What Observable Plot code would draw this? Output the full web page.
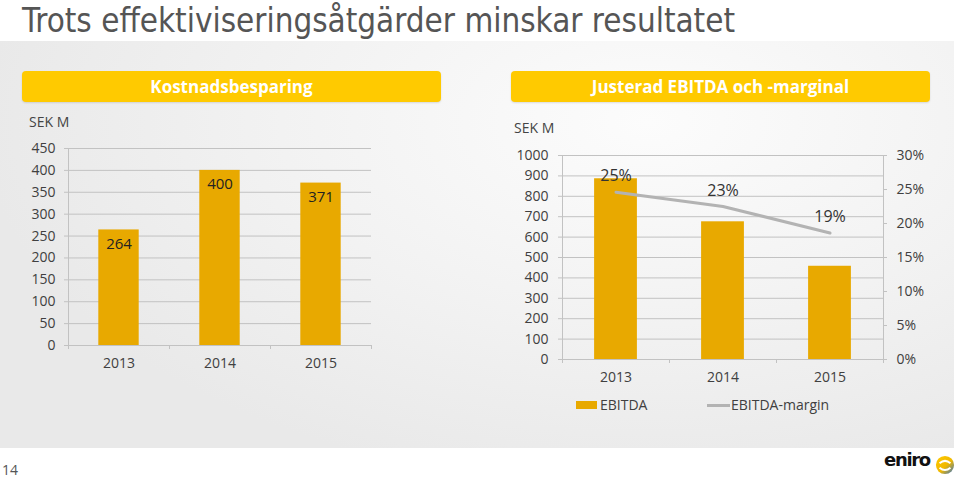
<!DOCTYPE html>
<html><head><meta charset="utf-8">
<script src="https://cdn.jsdelivr.net/npm/d3@7"></script>
<script src="https://cdn.jsdelivr.net/npm/@observablehq/plot@0.6"></script>
<style>
html,body{margin:0;padding:0;width:960px;height:478px;overflow:hidden;background:#fff;font-family:"Open Sans",sans-serif;}
#root{position:relative;width:960px;height:478px;}
#title{position:absolute;left:22px;top:0px;line-height:normal;font-family:"Liberation Sans Narrow","DejaVu Sans Condensed",sans-serif;font-size:34px;color:#555;white-space:nowrap;transform-origin:0 0;}
#panel{position:absolute;left:0;top:41px;width:954px;height:407px;background:radial-gradient(ellipse 70% 90% at 68% 20%,#fcfcfc 0%,#f2f2f2 55%,#e9e9e9 100%);}
.banner{position:absolute;height:31px;background:#FFCA00;border-radius:4px;color:#fff;font-weight:700;font-size:17px;display:flex;align-items:center;justify-content:center;box-shadow:0 1px 2px rgba(0,0,0,0.12);}
.unit{position:absolute;font-size:14px;color:#444;}
.chart{position:absolute;}
.leg{position:absolute;font-size:14px;color:#404040;}
#page{position:absolute;left:2px;top:460px;font-size:14px;color:#555;}
#logo{position:absolute;left:884px;top:449px;font-weight:800;font-size:18px;color:#111;font-family:"DejaVu Sans",sans-serif;letter-spacing:-1.3px;white-space:nowrap;}
#icon{position:absolute;left:935px;top:455px;}
</style></head>
<body><div id="root">
<div id="panel"></div>
<div id="title">Trots effektiviseringsåtgärder minskar resultatet</div>
<div class="banner" style="left:22px;top:71px;width:419px;">Kostnadsbesparing</div>
<div class="banner" style="left:511px;top:71px;width:419px;">Justerad EBITDA och -marginal</div>
<div class="unit" style="left:29px;top:112px;">SEK M</div>
<div class="unit" style="left:514px;top:118px;">SEK M</div>
<div id="left" class="chart" style="left:0;top:130px;"></div>
<div id="right" class="chart" style="left:480px;top:135px;"></div>
<div class="leg" style="left:576px;top:401px;width:21px;height:8px;background:#E8A900;"></div>
<div class="leg" style="left:600px;top:395px;">EBITDA</div>
<div class="leg" style="left:707px;top:404px;width:23px;height:3px;background:#b3b3b3;"></div>
<div class="leg" style="left:731px;top:395px;">EBITDA-margin</div>
<div id="page">14</div>
<div id="logo">eniro</div>
<svg id="icon" width="20" height="20" viewBox="0 0 22 22"><defs><linearGradient id="lg" x1="0" y1="0" x2="1" y2="1"><stop offset="0" stop-color="#FFCA00"/><stop offset="0.55" stop-color="#f0b800"/><stop offset="1" stop-color="#2a6fd0"/></linearGradient></defs><circle cx="11" cy="11" r="10" fill="url(#lg)"/><path d="M5 9 Q11 4 17 9 M5 14 Q11 19 17 14" stroke="#fff" stroke-width="2.2" fill="none"/></svg>
</div>
<script>
const years = ["2013", "2014", "2015"];
const savings = [264, 400, 371];
const ebitda = [886, 675, 457];
const ebitdaMargin = [0.246, 0.225, 0.186];
const marginLabels = ["25%", "23%", "19%"];
const savingsTicks = [0, 50, 100, 150, 200, 250, 300, 350, 400, 450];
const ebitdaTicks = [0, 100, 200, 300, 400, 500, 600, 700, 800, 900, 1000];
const marginTicks = [0, 0.05, 0.10, 0.15, 0.20, 0.25, 0.30];

const barColor = "#E8A900";
const gridColor = "#c2c2c2";
const textColor = "#404040";

// title width fit
const t = document.getElementById("title");
const w = t.getBoundingClientRect().width;
t.style.transform = `scaleX(${713 / w})`;

const leftRows = years.map((y, i) => ({i, year: y, value: savings[i]}));
const left = Plot.plot({
  width: 480, height: 250,
  marginLeft: 68, marginRight: 109, marginTop: 18, marginBottom: 35,
  style: {background: "transparent", fontFamily: "Open Sans", fontSize: "14px", color: textColor, overflow: "visible"},
  x: {domain: [0, years.length]},
  y: {domain: [0, 450]},
  marks: [
    Plot.gridY(savingsTicks, {stroke: gridColor, strokeOpacity: 1, insetLeft: -4}),
    Plot.ruleX([0], {stroke: gridColor}),
    Plot.ruleX(d3.range(years.length + 1), {y1: 0, y2: 0, insetTop: 4, stroke: gridColor}),
    Plot.rectY(leftRows, {x1: d => d.i + 0.3, x2: d => d.i + 0.7, y: "value", fill: barColor}),
    Plot.text(leftRows, {x: d => d.i + 0.5, y: "value", text: d => String(d.value), dy: 14, fill: "#222", fontSize: 15}),
    Plot.axisY(savingsTicks, {tickSize: 0, tickPadding: 13, label: null, tickFormat: d => String(d)}),
    Plot.axisX(years.map((y, i) => i + 0.5), {tickSize: 0, tickPadding: 13, label: null, tickFormat: d => years[Math.floor(d)]})
  ]
});
document.getElementById("left").appendChild(left);

const rightRows = years.map((y, i) => ({i, year: y, value: ebitda[i], margin: ebitdaMargin[i], label: marginLabels[i]}));
const toLeft = m => m / 0.30 * 1000;
const right = Plot.plot({
  width: 480, height: 260,
  marginLeft: 82, marginRight: 77, marginTop: 20, marginBottom: 36,
  style: {background: "transparent", fontFamily: "Open Sans", fontSize: "14px", color: textColor, overflow: "visible"},
  x: {domain: [0, years.length]},
  y: {domain: [0, 1000]},
  marks: [
    Plot.gridY(ebitdaTicks, {stroke: gridColor, strokeOpacity: 1, insetLeft: -4}),
    Plot.ruleX([0, years.length], {stroke: gridColor}),
    Plot.ruleY(marginTicks.map(toLeft), {x1: years.length, x2: years.length, insetRight: -4, stroke: gridColor}),
    Plot.ruleX(d3.range(years.length + 1), {y1: 0, y2: 0, insetTop: 4, stroke: gridColor}),
    Plot.rectY(rightRows, {x1: d => d.i + 0.3, x2: d => d.i + 0.7, y: "value", fill: barColor}),
    Plot.line(rightRows, {x: d => d.i + 0.5, y: d => toLeft(d.margin), stroke: "#b3b3b3", strokeWidth: 3}),
    Plot.text(rightRows, {x: d => d.i + 0.5, y: d => toLeft(d.margin), text: "label", dy: -16, fill: "#333", fontSize: 16}),
    Plot.axisY(ebitdaTicks, {tickSize: 0, tickPadding: 14, label: null, tickFormat: d => String(d)}),
    Plot.axisY(marginTicks.map(toLeft), {anchor: "right", tickSize: 0, tickPadding: 13, label: null, tickFormat: v => Math.round(v / 1000 * 30) + "%"}),
    Plot.axisX(years.map((y, i) => i + 0.5), {tickSize: 0, tickPadding: 13, label: null, tickFormat: d => years[Math.floor(d)]})
  ]
});
document.getElementById("right").appendChild(right);
</script>
</body></html>
